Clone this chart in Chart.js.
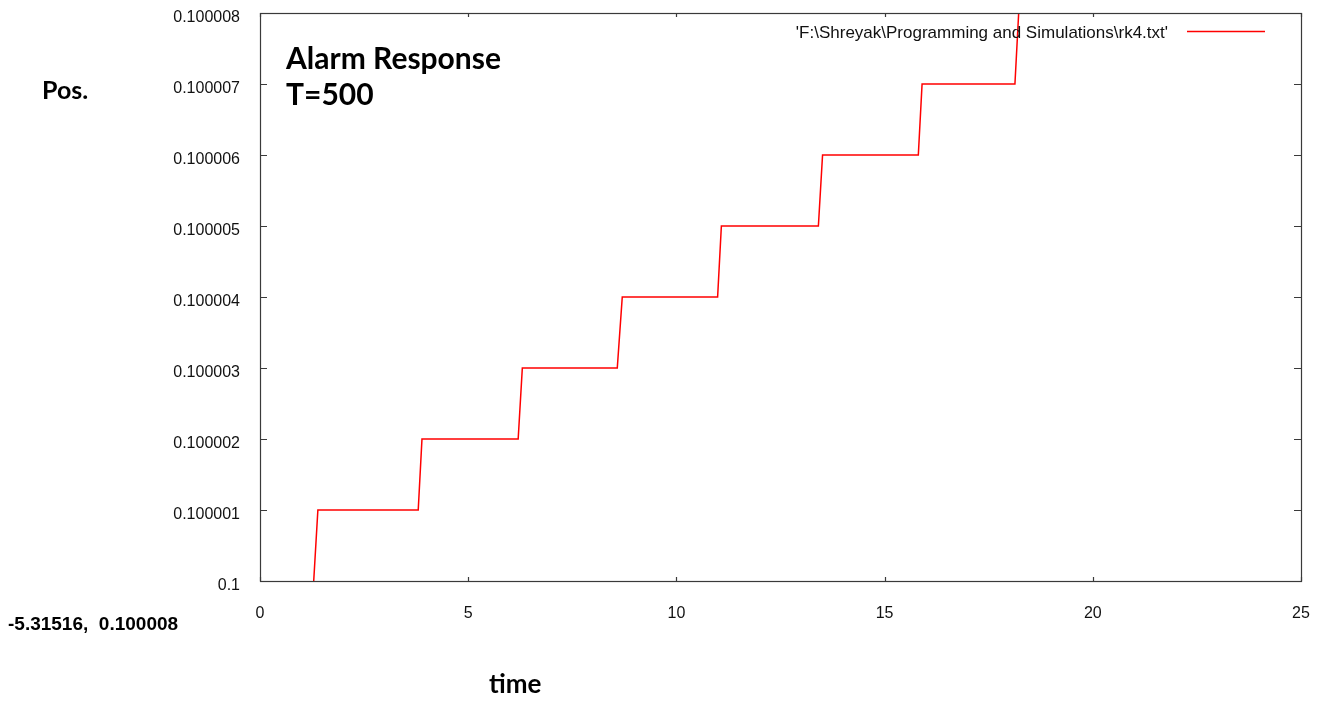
<!DOCTYPE html>
<html>
<head>
<meta charset="utf-8">
<script src="https://cdn.jsdelivr.net/npm/chart.js@4"></script>
<style>
  html, body { margin: 0; padding: 0; background: #fff; }
  #wrap { width: 1324px; height: 702px; position: relative; }
</style>
</head>
<body>
<div id="wrap"><canvas id="rk4"></canvas></div>
<script>
// step data from rk4.txt: each step rises from riseStart[i] to riseEnd[i]
var riseStart = [1.29, 3.80, 6.20, 8.58, 10.99, 13.41, 15.81, 18.13];
var riseEnd   = [1.39, 3.89, 6.30, 8.70, 11.08, 13.51, 15.90, 18.22];
var levels    = [0.1, 0.100001, 0.100002, 0.100003, 0.100004, 0.100005, 0.100006, 0.100007, 0.100008];

var yTickValues = [0.1, 0.100001, 0.100002, 0.100003, 0.100004, 0.100005, 0.100006, 0.100007, 0.100008];
var yTickLabels = ['0.1', '0.100001', '0.100002', '0.100003', '0.100004', '0.100005', '0.100006', '0.100007', '0.100008'];
var xTickValues = [0, 5, 10, 15, 20, 25];

var seriesName = "'F:\\Shreyak\\Programming and Simulations\\rk4.txt'";

var points = [];
for (var i = 0; i < riseStart.length; i++) {
    points.push({ x: riseStart[i], y: levels[i] });
    points.push({ x: riseEnd[i], y: levels[i + 1] });
}

// gnuplot-like frame: box border, inward ticks on all four sides, key and labels
var gnuFrame = {
    id: 'gnuFrame',
    afterDraw: function(chart) {
        var ctx = chart.ctx;
        var a = chart.chartArea;
        var xs = chart.scales.x, ys = chart.scales.y;
        ctx.save();
        ctx.strokeStyle = '#3a3a3a';
        ctx.lineWidth = 1.2;
        ctx.strokeRect(a.left + 0.5, a.top + 0.5, a.right - a.left, a.bottom - a.top);
        ctx.beginPath();
        xTickValues.forEach(function(v) {
            var px = Math.round(xs.getPixelForValue(v)) + 0.5;
            ctx.moveTo(px, a.bottom); ctx.lineTo(px, a.bottom - 4);
            ctx.moveTo(px, a.top); ctx.lineTo(px, a.top + 4);
        });
        yTickValues.forEach(function(v) {
            var py = Math.round(ys.getPixelForValue(v)) + 0.5;
            ctx.moveTo(a.left, py); ctx.lineTo(a.left + 7, py);
            ctx.moveTo(a.right, py); ctx.lineTo(a.right - 7, py);
        });
        ctx.stroke();

        // key
        ctx.fillStyle = '#111';
        ctx.font = '17px "Liberation Sans", Arial, sans-serif';
        ctx.textAlign = 'right';
        ctx.textBaseline = 'middle';
        ctx.fillText(chart.data.datasets[0].label, 1168, 33);
        ctx.strokeStyle = '#ff0000';
        ctx.lineWidth = 1.5;
        ctx.beginPath();
        ctx.moveTo(1187, 31.5); ctx.lineTo(1265, 31.5);
        ctx.stroke();

        // annotations
        ctx.fillStyle = '#000';
        ctx.textAlign = 'left';
        ctx.textBaseline = 'alphabetic';
        ctx.font = 'bold 30px Lato, sans-serif';
        ctx.fillText('Alarm Response', 286, 69);
        ctx.fillText('T=500', 286, 105);
        ctx.font = 'bold 25px Lato, sans-serif';
        ctx.fillText('Pos.', 42, 99);
        ctx.font = 'bold 26px Lato, sans-serif';
        ctx.fillText('time', 489, 693);
        ctx.font = 'bold 19px "Liberation Sans", Arial, sans-serif';
        ctx.fillText('-5.31516,  0.100008', 8, 630);
        ctx.restore();
    }
};

var ctx = document.getElementById('rk4');

var myLineChart = new Chart(ctx, {
    type: 'scatter',
    data: {
        datasets: [{
            label: seriesName,
            data: points,
            showLine: true,
            borderColor: '#ff0000',
            borderWidth: 1.5,
            pointRadius: 0,
            tension: 0
        }]
    },
    options: {
        responsive: true,
        maintainAspectRatio: false,
        animation: false,
        layout: { padding: { top: 13, right: 23, left: 0, bottom: 0 } },
        plugins: {
            legend: { display: false },
            tooltip: { enabled: false }
        },
        scales: {
            x: {
                type: 'linear',
                min: 0,
                max: 25,
                border: { display: false },
                grid: { display: false, drawTicks: false },
                afterBuildTicks: function(scale) {
                    scale.ticks = xTickValues.map(function(v) { return { value: v }; });
                },
                afterFit: function(scale) {
                    scale.height = 121;
                    scale.paddingLeft = 0;
                    scale.paddingRight = 0;
                },
                ticks: {
                    padding: 23,
                    color: '#111',
                    font: { family: '"Liberation Sans", Arial, sans-serif', size: 16 },
                    maxRotation: 0
                }
            },
            y: {
                type: 'linear',
                min: 0.1,
                max: 0.100008,
                border: { display: false },
                grid: { display: false, drawTicks: false },
                afterBuildTicks: function(scale) {
                    scale.ticks = yTickValues.map(function(v) { return { value: v }; });
                },
                afterFit: function(scale) {
                    scale.width = 260;
                    scale.paddingTop = 0;
                    scale.paddingBottom = 0;
                },
                ticks: {
                    padding: 20,
                    labelOffset: 5,
                    color: '#111',
                    font: { family: '"Liberation Sans", Arial, sans-serif', size: 16 },
                    callback: function(value, index) { return yTickLabels[index]; }
                }
            }
        }
    },
    plugins: [gnuFrame]
});
</script>
</body>
</html>
